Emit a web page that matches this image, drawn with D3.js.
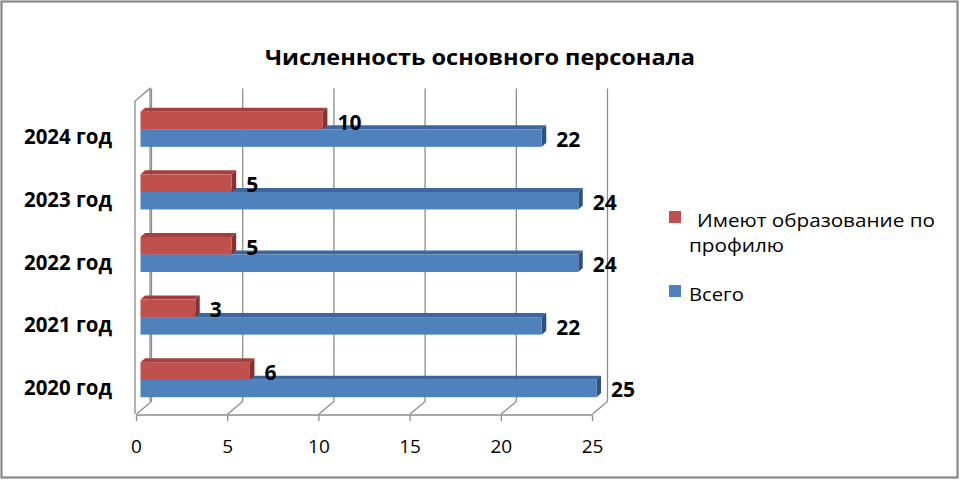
<!DOCTYPE html>
<html lang="ru">
<head>
<meta charset="UTF-8">
<title>Численность основного персонала</title>
<script src="https://d3js.org/d3.v7.min.js"></script>
<style>
    body { margin: 0; background: #fff; }
    text { font-family: "Open Sans", "Liberation Sans", sans-serif; fill: #000; }
    .title { font-size: 22px; font-weight: bold; text-anchor: middle; }
    .cat { font-size: 21.5px; font-weight: bold; text-anchor: end; }
    .tick { font-size: 19px; text-anchor: middle; }
    .value { font-size: 21px; font-weight: bold; }
    .legend { font-size: 18.5px; }
    .grid { stroke: #8c8c8c; stroke-width: 1.3; fill: none; }
</style>
</head>
<body>
<svg width="960" height="480"></svg>
<script>
    // data (bottom to top)
    const categories = ["2020 год", "2021 год", "2022 год", "2023 год", "2024 год"]
    const totalValues = [25, 22, 24, 24, 22]
    const profileValues = [6, 3, 5, 5, 10]
    const xTicks = [0, 5, 10, 15, 20, 25]
    const titleText = "Численность основного персонала"
    const legendLines = [[" Имеют образование по", "профилю"], ["Всего"]]

    const svg = d3.select("svg")

    // outer frame
    svg.append("rect")
        .attr("x", 1.5).attr("y", 1.5)
        .attr("width", 956).attr("height", 476)
        .attr("fill", "#fff")
        .attr("stroke", "#888").attr("stroke-width", 2.2)

    // 3d geometry
    const floorY = 414, wallTop = 101
    const depth = {dx: 15, dy: -12.5}
    const bar = {fx: 4, fy: -3, dx: 4.5, dy: -4}

    let x = d3.scaleLinear().domain([0, 25]).range([136.5, 592.5])
    let y = d3.scaleBand()
        .domain(categories.slice().reverse())
        .range([wallTop, floorY])
        .paddingInner(0.44)
        .paddingOuter(0.22)

    // title
    svg.append("text").attr("class", "title")
        .attr("x", 480).attr("y", 65)
        .attr("textLength", 430).attr("lengthAdjust", "spacingAndGlyphs")
        .text(titleText)

    // walls and gridlines
    let grid = svg.append("g")
    grid.append("path").attr("class", "grid")
        .attr("d", `M${x(0) - 1.5},${floorY} V${wallTop} l${depth.dx},${depth.dy} V${floorY + depth.dy}`)
    xTicks.forEach(t => {
        grid.append("path").attr("class", "grid")
            .attr("d", `M${x(t)},${floorY} l${depth.dx},${depth.dy} V${wallTop + depth.dy}`)
        grid.append("line").attr("class", "grid")
            .attr("x1", x(t)).attr("x2", x(t))
            .attr("y1", floorY + 1).attr("y2", floorY + 7)
    })
    grid.append("line").attr("class", "grid")
        .attr("x1", x(0)).attr("x2", x(25))
        .attr("y1", floorY + 1).attr("y2", floorY + 1)

    // tick labels
    svg.append("g").selectAll("text")
        .data(xTicks).enter().append("text")
        .attr("class", "tick")
        .attr("x", d => x(d)).attr("y", 453)
        .text(d => d)

    // category labels
    svg.append("g").selectAll("text")
        .data(categories).enter().append("text")
        .attr("class", "cat")
        .attr("x", 112)
        .attr("y", d => y(d) + y.bandwidth() / 2 + 12)
        .attr("textLength", 88).attr("lengthAdjust", "spacingAndGlyphs")
        .text(d => d)

    const series = [
        {values: totalValues, row: 1, front: "#4f81bd", top: "#3d669c", side: "#2d5181"},
        {values: profileValues, row: 0, front: "#c0504d", top: "#a3403d", side: "#823331"}
    ]
    const h = y.bandwidth() / 2

    // draw one 3d bar
    function drawBar(g, v, yTop, s) {
        let x0 = x(0) + bar.fx, x1 = x(v) + bar.fx
        let y0 = yTop + bar.fy, y1 = y0 + h
        g.append("path").attr("fill", s.top)
            .attr("d", `M${x0},${y0} l${bar.dx},${bar.dy} H${x1 + bar.dx} L${x1},${y0} Z`)
        g.append("path").attr("fill", s.side)
            .attr("d", `M${x1},${y0} l${bar.dx},${bar.dy} v${h} L${x1},${y1} Z`)
        g.append("rect").attr("fill", s.front)
            .attr("x", x0).attr("y", y0)
            .attr("width", x1 - x0).attr("height", h)
        g.append("text").attr("class", "value")
            .attr("x", x(v) + 18.5)
            .attr("y", y0 + h / 2 + 9)
            .text(v)
    }

    let bars = svg.append("g")
    series.forEach(s => {
        categories.forEach((c, i) => {
            drawBar(bars, s.values[i], y(c) + s.row * h, s)
        })
    })

    // legend
    let legend = svg.append("g")
    const legendColors = ["#c0504d", "#4f81bd"]
    const legendY = [211, 285]
    const legendWidths = [[238, 95], [55]]
    legendLines.forEach((lines, i) => {
        legend.append("rect")
            .attr("x", 669).attr("y", legendY[i])
            .attr("width", 12).attr("height", 12)
            .attr("fill", legendColors[i])
        lines.forEach((ln, j) => {
            legend.append("text").attr("class", "legend")
                .attr("x", j === 0 && i === 0 ? 697 : 689)
                .attr("y", legendY[i] + 16 + j * 25)
                .attr("textLength", legendWidths[i][j])
                .attr("lengthAdjust", "spacingAndGlyphs")
                .text(ln.trim())
        })
    })
</script>
</body>
</html>
